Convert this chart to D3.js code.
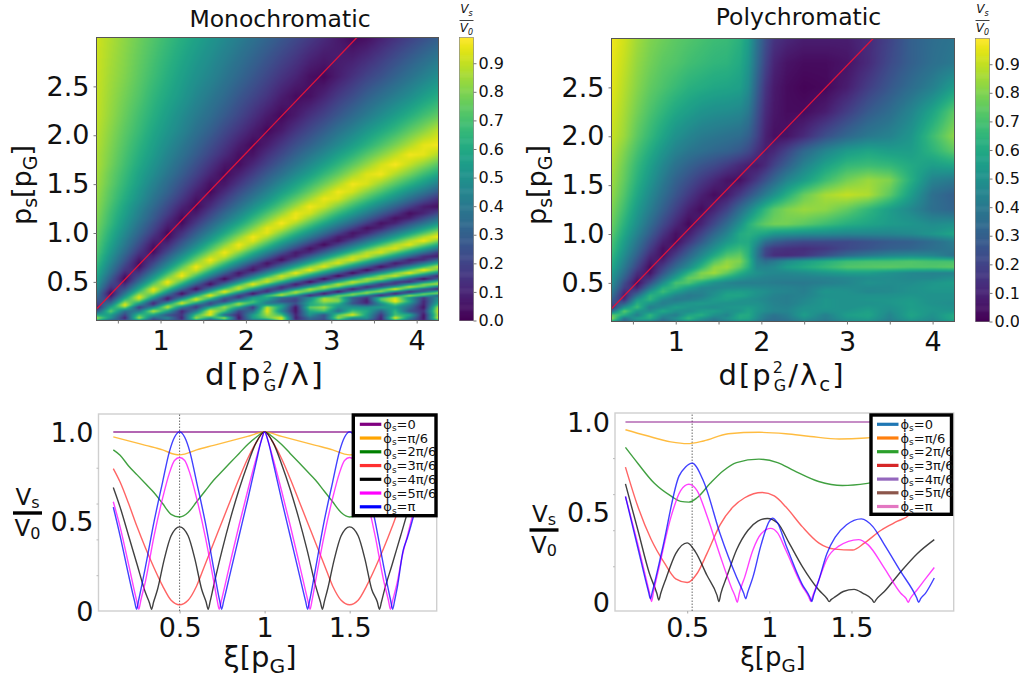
<!DOCTYPE html>
<html>
<head>
<meta charset="utf-8">
<script src="https://cdn.jsdelivr.net/npm/d3@7"></script>
<style>
  html, body { margin: 0; padding: 0; background: #fff; }
  text { font-family: "DejaVu Sans", sans-serif; fill: #111; }
</style>
</head>
<body>
<svg id="chart" width="1019" height="681"></svg>
<script>
// ---- monochromatic map (rows top to bottom)
const monoD = [.25,.417,.583,.75,.917,1.083,1.25,1.417,1.583,1.75,1.917,2.083,2.25,2.417,2.583,2.75,2.917,3.083,3.25,3.417,3.583,3.75,3.917,4.083,4.25];
const monoP = [3,2.6,2.4,2.2,2.05,1.9,1.8,1.7,1.6,1.5,1.42,1.35,1.27,1.2,1.15,1.1,1.05,1,.96,.92,.88,.84,.8,.76,.725,.69,.655,.62,.59,.56,.53,.5,.475,.45,.425,.4,.38,.36,.34,.32,.3,.28,.26,.24,.2,.16,.13,.105];
const monoV = [
  [.92,.87,.82,.77,.72,.67,.62,.57,.52,.47,.42,.37,.32,.27,.22,.17,.12,.07,.02,.04,.09,.14,.19,.24,.29],
  [.91,.85,.80,.74,.68,.62,.56,.50,.45,.39,.33,.27,.21,.15,.10,.04,.02,.08,.14,.20,.25,.31,.37,.43,.49],
  [.905,.84,.78,.72,.65,.59,.53,.46,.40,.34,.27,.21,.15,.08,.03,.04,.10,.17,.23,.30,.36,.42,.48,.55,.61],
  [.90,.83,.76,.69,.62,.55,.48,.41,.35,.28,.21,.14,.07,.02,.07,.14,.20,.27,.34,.41,.48,.55,.62,.69,.75],
  [.89,.815,.74,.67,.59,.52,.45,.37,.30,.22,.15,.08,.02,.07,.15,.22,.29,.37,.44,.52,.59,.66,.74,.81,.89],
  [.88,.80,.72,.64,.56,.48,.40,.32,.24,.16,.08,.02,.08,.16,.24,.31,.39,.47,.55,.63,.71,.79,.87,.95,.97],
  [.87,.79,.705,.62,.54,.45,.37,.285,.20,.12,.04,.05,.14,.22,.305,.39,.47,.56,.64,.73,.81,.89,.97,.95,.87],
  [.87,.78,.69,.60,.51,.42,.33,.24,.15,.06,.03,.11,.20,.29,.38,.47,.56,.65,.74,.83,.92,.98,.90,.82,.73],
  [.86,.76,.67,.57,.48,.385,.29,.195,.10,.02,.09,.18,.28,.37,.47,.56,.66,.75,.85,.94,.97,.87,.78,.68,.59],
  [.85,.75,.65,.55,.44,.34,.24,.14,.04,.06,.16,.26,.36,.47,.57,.67,.77,.87,.97,.93,.83,.73,.63,.53,.42],
  [.84,.73,.63,.52,.41,.31,.20,.09,.02,.12,.23,.33,.44,.55,.65,.76,.87,.97,.92,.81,.71,.60,.49,.39,.28],
  [.83,.72,.61,.50,.38,.27,.16,.05,.07,.18,.29,.40,.51,.63,.74,.85,.96,.93,.81,.70,.59,.48,.36,.25,.14],
  [.82,.70,.58,.46,.34,.22,.10,.02,.13,.25,.37,.49,.61,.73,.85,.97,.91,.79,.67,.55,.43,.31,.19,.08,.04],
  [.81,.68,.56,.43,.30,.18,.05,.07,.20,.33,.45,.58,.71,.83,.96,.92,.79,.66,.54,.41,.28,.16,.03,.10,.22],
  [.80,.67,.54,.41,.28,.14,.02,.12,.25,.38,.51,.65,.78,.91,.96,.83,.70,.56,.43,.30,.17,.04,.09,.23,.36],
  [.79,.66,.52,.38,.24,.10,.03,.17,.31,.45,.58,.72,.86,.98,.87,.73,.59,.45,.32,.18,.04,.10,.24,.37,.51],
  [.78,.64,.50,.35,.21,.06,.08,.23,.37,.52,.66,.80,.95,.91,.76,.62,.47,.33,.19,.04,.10,.25,.39,.54,.68],
  [.77,.62,.47,.32,.17,.02,.14,.29,.44,.59,.74,.89,.95,.80,.65,.50,.35,.20,.05,.11,.26,.41,.56,.71,.86],
  [.76,.605,.45,.29,.13,.03,.18,.34,.50,.66,.82,.97,.87,.71,.55,.40,.24,.08,.08,.24,.39,.55,.71,.87,.97],
  [.75,.59,.42,.26,.09,.07,.24,.40,.56,.73,.89,.94,.78,.61,.45,.28,.12,.05,.21,.38,.54,.70,.87,.97,.80],
  [.74,.57,.40,.225,.05,.12,.29,.46,.64,.81,.97,.85,.68,.50,.33,.16,.02,.185,.36,.53,.70,.87,.95,.78,.61],
  [.73,.55,.37,.19,.03,.17,.35,.53,.71,.89,.93,.75,.57,.39,.21,.04,.16,.34,.52,.70,.88,.94,.76,.58,.40],
  [.72,.53,.34,.15,.04,.23,.42,.61,.80,.97,.82,.63,.44,.25,.065,.12,.31,.50,.69,.88,.93,.74,.55,.36,.17],
  [.70,.50,.30,.10,.10,.30,.50,.70,.89,.91,.71,.51,.31,.11,.09,.29,.49,.69,.89,.91,.72,.52,.32,.12,.08],
  [.69,.48,.27,.06,.15,.36,.57,.78,.97,.81,.60,.39,.18,.03,.24,.45,.66,.87,.93,.72,.51,.30,.09,.12,.33],
  [.67,.45,.23,.03,.21,.43,.65,.87,.91,.69,.47,.25,.04,.19,.40,.62,.84,.94,.72,.50,.28,.06,.16,.38,.60],
  [.65,.42,.19,.04,.27,.50,.74,.97,.80,.57,.34,.11,.12,.35,.585,.82,.95,.72,.49,.26,.03,.20,.44,.67,.90],
  [.63,.39,.15,.10,.34,.59,.83,.92,.68,.43,.19,.05,.30,.54,.79,.97,.72,.48,.23,.02,.25,.50,.74,.98,.77],
  [.615,.36,.10,.16,.41,.67,.93,.82,.56,.30,.05,.21,.47,.72,.97,.76,.51,.25,.02,.26,.52,.78,.96,.71,.45],
  [.59,.32,.05,.22,.49,.76,.97,.70,.43,.16,.11,.38,.65,.92,.81,.54,.27,.02,.27,.55,.82,.91,.64,.37,.10],
  [.57,.285,.02,.29,.57,.86,.86,.57,.28,.02,.29,.57,.86,.855,.57,.28,.02,.29,.57,.86,.855,.57,.28,.02,.29],
  [.55,.24,.06,.36,.67,.97,.73,.42,.12,.18,.48,.79,.91,.61,.30,.02,.30,.60,.91,.79,.49,.18,.12,.42,.73],
  [.52,.20,.12,.44,.755,.93,.61,.29,.03,.35,.67,.97,.69,.37,.055,.26,.58,.90,.78,.46,.14,.18,.50,.82,.87],
  [.50,.16,.18,.52,.85,.81,.48,.14,.20,.53,.87,.79,.45,.12,.22,.55,.89,.77,.43,.10,.24,.57,.91,.75,.41],
  [.465,.11,.25,.60,.96,.68,.33,.03,.39,.74,.90,.54,.19,.17,.53,.88,.76,.40,.05,.31,.67,.98,.62,.26,.09],
  [.43,.05,.33,.70,.92,.54,.16,.22,.60,.98,.64,.26,.11,.49,.87,.75,.37,.01,.39,.77,.86,.48,.10,.28,.66],
  [.40,.02,.395,.79,.81,.41,.02,.39,.79,.81,.41,.02,.38,.78,.82,.42,.02,.38,.78,.825,.43,.03,.37,.77,.83],
  [.37,.05,.47,.89,.68,.26,.16,.58,.98,.58,.16,.26,.68,.90,.48,.06,.36,.78,.79,.37,.05,.47,.89,.69,.27],
  [.33,.11,.56,.95,.55,.10,.34,.80,.77,.32,.15,.55,.60,.35,.25,.45,.80,.75,.30,.15,.65,.90,.55,.15,.50],
  [.29,.18,.66,.87,.40,.08,.55,.95,.60,.20,.35,.60,.55,.30,.20,.50,.88,.80,.30,.10,.75,.95,.55,.15,.50],
  [.24,.26,.77,.73,.22,.28,.79,.78,.35,.20,.55,.70,.45,.25,.20,.55,.85,.80,.30,.08,.65,.98,.60,.10,.55],
  [.19,.35,.89,.56,.10,.52,.94,.55,.20,.45,.85,.65,.40,.40,.25,.60,.75,.65,.25,.12,.50,.80,.50,.10,.60],
  [.13,.46,.96,.38,.21,.79,.70,.25,.30,.70,.80,.40,.60,.55,.15,.60,.70,.55,.40,.30,.45,.65,.40,.08,.70],
  [.05,.58,.79,.16,.47,.90,.40,.15,.60,.85,.55,.15,.90,.55,.05,.75,.85,.50,.50,.50,.55,.55,.35,.05,.85],
  [.25,.75,.35,.40,.90,.55,.10,.40,.95,.70,.20,.35,.95,.45,.05,.60,.70,.35,.70,.60,.30,.65,.25,.15,.90],
  [.60,.55,.20,.70,.55,.25,.15,.70,.95,.35,.10,.55,.85,.70,.10,.50,.25,.75,.95,.55,.15,.70,.60,.05,.85],
  [.85,.50,.10,.85,.30,.45,.10,.85,.55,.85,.05,.55,.75,.95,.08,.35,.25,.85,.50,.50,.10,.95,.45,.05,.90],
  [.60,.30,.25,.50,.15,.30,.20,.55,.20,.50,.15,.35,.40,.85,.15,.30,.20,.55,.30,.30,.10,.60,.30,.10,.60]
];

// ---- polychromatic map
const polyD = [.25,.4,.55,.7,.85,1,1.15,1.3,1.45,1.6,1.75,1.85,1.95,2.05,2.15,2.3,2.5,2.75,3,3.25,3.5,3.75,4,4.25];
const polyP = [3,2.75,2.5,2.25,2,1.85,1.7,1.55,1.4,1.25,1.1,1,.92,.85,.78,.72,.66,.6,.55,.5,.45,.41,.37,.33,.29,.25,.21,.17,.135,.105];
const polyV = [
  [.97,.92,.85,.80,.77,.74,.72,.70,.68,.67,.63,.55,.38,.24,.15,.11,.08,.08,.08,.12,.20,.30,.35,.38],
  [.96,.90,.83,.78,.74,.72,.69,.67,.65,.64,.60,.52,.35,.20,.10,.05,.03,.03,.05,.12,.22,.30,.36,.40],
  [.95,.88,.81,.75,.71,.67,.63,.61,.59,.58,.56,.48,.30,.15,.07,.03,.01,.02,.08,.18,.27,.35,.43,.55],
  [.93,.86,.78,.71,.65,.59,.55,.51,.49,.48,.46,.40,.25,.12,.06,.03,.03,.08,.18,.28,.35,.45,.58,.74],
  [.91,.84,.74,.66,.58,.50,.45,.41,.39,.37,.35,.30,.20,.09,.04,.05,.12,.24,.33,.40,.44,.52,.68,.82],
  [.89,.80,.70,.61,.52,.44,.39,.36,.33,.31,.27,.22,.14,.08,.11,.20,.33,.45,.54,.58,.55,.55,.64,.74],
  [.87,.77,.66,.56,.46,.37,.31,.26,.22,.17,.11,.08,.07,.12,.20,.30,.44,.57,.66,.68,.66,.60,.55,.58],
  [.85,.75,.63,.52,.41,.31,.24,.17,.11,.05,.04,.10,.17,.25,.33,.45,.55,.68,.78,.84,.80,.62,.44,.40],
  [.83,.72,.59,.47,.36,.26,.17,.09,.03,.07,.17,.25,.33,.42,.50,.62,.76,.86,.90,.87,.74,.55,.36,.30],
  [.80,.68,.54,.42,.30,.19,.09,.03,.10,.20,.35,.45,.56,.66,.74,.80,.84,.82,.75,.65,.55,.46,.36,.32],
  [.77,.63,.49,.35,.22,.11,.02,.10,.22,.35,.50,.62,.70,.75,.78,.78,.74,.68,.62,.58,.54,.52,.48,.50],
  [.74,.59,.44,.29,.15,.04,.08,.20,.33,.45,.60,.63,.60,.57,.52,.50,.48,.47,.45,.45,.45,.47,.52,.58],
  [.71,.55,.39,.23,.09,.03,.15,.28,.42,.53,.60,.60,.50,.36,.30,.25,.22,.22,.22,.25,.28,.30,.35,.42],
  [.69,.52,.35,.18,.04,.10,.24,.38,.50,.62,.67,.62,.42,.22,.16,.14,.13,.16,.22,.26,.30,.32,.36,.40],
  [.66,.48,.30,.12,.04,.18,.32,.46,.60,.72,.75,.63,.40,.20,.13,.12,.15,.24,.34,.40,.45,.47,.45,.37],
  [.63,.44,.25,.07,.10,.26,.40,.55,.72,.82,.80,.66,.43,.36,.40,.48,.55,.62,.68,.70,.70,.72,.70,.70],
  [.60,.40,.20,.03,.18,.34,.48,.65,.82,.85,.75,.63,.46,.45,.47,.55,.60,.66,.72,.73,.74,.72,.72,.74],
  [.55,.35,.13,.05,.26,.45,.64,.80,.85,.75,.62,.55,.50,.47,.46,.46,.48,.52,.55,.55,.50,.46,.44,.44],
  [.52,.30,.08,.13,.36,.56,.75,.78,.70,.60,.52,.48,.46,.44,.43,.43,.43,.44,.46,.48,.48,.46,.46,.50],
  [.50,.23,.03,.24,.48,.70,.72,.60,.50,.45,.42,.42,.42,.42,.41,.40,.40,.42,.45,.50,.48,.48,.52,.55],
  [.46,.18,.10,.38,.62,.66,.55,.46,.45,.47,.48,.48,.47,.46,.45,.44,.42,.48,.48,.47,.47,.50,.53,.53],
  [.42,.12,.22,.52,.68,.56,.46,.44,.48,.54,.55,.54,.51,.49,.46,.45,.42,.52,.50,.46,.47,.50,.52,.52],
  [.37,.08,.36,.64,.58,.45,.40,.42,.50,.58,.58,.54,.50,.47,.44,.42,.44,.50,.50,.50,.50,.52,.50,.50],
  [.30,.12,.52,.65,.47,.40,.42,.47,.54,.56,.52,.50,.48,.46,.43,.42,.46,.52,.50,.52,.52,.54,.50,.50],
  [.22,.28,.62,.52,.42,.47,.52,.54,.52,.50,.50,.50,.50,.47,.44,.42,.47,.52,.50,.50,.52,.55,.50,.48],
  [.12,.50,.68,.42,.48,.56,.52,.50,.48,.52,.53,.55,.52,.48,.45,.44,.50,.52,.50,.53,.50,.55,.52,.50],
  [.35,.74,.52,.48,.60,.50,.48,.55,.56,.50,.52,.58,.52,.48,.45,.45,.52,.50,.52,.56,.48,.56,.52,.52],
  [.75,.62,.42,.65,.48,.42,.58,.62,.50,.45,.60,.60,.50,.42,.38,.42,.55,.43,.55,.58,.45,.58,.50,.60],
  [.85,.38,.55,.62,.40,.50,.66,.52,.42,.50,.60,.58,.48,.40,.36,.40,.50,.42,.52,.55,.44,.55,.48,.60],
  [.60,.30,.45,.42,.32,.42,.50,.42,.36,.42,.50,.50,.42,.35,.33,.36,.45,.38,.48,.50,.40,.50,.45,.55]
];

// red guide line on both maps
const monoLineD = [.257,3.3];
const monoLineP = [.228,3];
const polyLineD = [.25,3.306];
const polyLineP = [.235,3];

// ---- bottom left curves, [xi, V]
const mono0 = [[.11,1],[1.89,1]];
const mono1 = [[.11,.972],[.2,.95],[.3,.925],[.4,.9],[.47,.875],[.5,.872],[.53,.876],[.6,.9],[.7,.925],[.8,.95],[.9,.975],[1,1],[1.1,.975],[1.2,.95],[1.3,.925],[1.4,.9],[1.47,.876],[1.5,.872],[1.53,.875],[1.6,.9],[1.7,.925],[1.8,.95],[1.89,.972]];
const mono2 = [[.11,.9],[.15,.87],[.2,.81],[.25,.76],[.3,.71],[.35,.66],[.4,.6],[.45,.54],[.5,.525],[.55,.55],[.6,.61],[.65,.67],[.7,.73],[.75,.78],[.8,.83],[.85,.88],[.9,.93],[.95,.97],[1,1],[1.05,.97],[1.1,.93],[1.15,.88],[1.2,.83],[1.25,.78],[1.3,.73],[1.35,.67],[1.4,.61],[1.45,.55],[1.5,.525],[1.55,.54],[1.6,.6],[1.65,.66],[1.7,.71],[1.75,.76],[1.8,.81],[1.85,.87],[1.89,.9]];
const mono3 = [[.11,.795],[.15,.72],[.2,.6],[.25,.47],[.3,.35],[.35,.24],[.4,.14],[.45,.06],[.5,.035],[.55,.06],[.6,.14],[.65,.26],[.7,.38],[.75,.5],[.8,.62],[.85,.74],[.9,.85],[.95,.94],[1,1],[1.05,.94],[1.1,.85],[1.15,.74],[1.2,.62],[1.25,.5],[1.3,.38],[1.35,.26],[1.4,.14],[1.45,.06],[1.5,.035],[1.55,.06],[1.6,.14],[1.65,.24],[1.7,.35],[1.75,.47],[1.8,.6],[1.85,.72],[1.89,.795]];
const mono4 = [[.11,.69],[.15,.58],[.2,.42],[.25,.26],[.3,.1],[.323,.045],[.335,.01],[.347,.05],[.37,.12],[.41,.29],[.45,.42],[.5,.47],[.55,.42],[.59,.29],[.63,.12],[.656,.05],[.668,.01],[.68,.055],[.7,.14],[.75,.34],[.8,.52],[.85,.68],[.9,.82],[.95,.94],[1,1],[1.05,.94],[1.1,.82],[1.15,.68],[1.2,.52],[1.25,.34],[1.3,.14],[1.328,.05],[1.34,.01],[1.352,.055],[1.37,.12],[1.41,.29],[1.45,.42],[1.5,.47],[1.55,.42],[1.59,.29],[1.63,.12],[1.663,.05],[1.675,.01],[1.687,.05],[1.7,.1],[1.75,.26],[1.8,.42],[1.85,.58],[1.89,.69]];
const mono5 = [[.11,.61],[.15,.47],[.2,.26],[.248,.055],[.26,.01],[.272,.06],[.3,.17],[.35,.42],[.4,.63],[.44,.77],[.47,.84],[.5,.857],[.53,.84],[.56,.77],[.6,.63],[.65,.42],[.7,.17],[.721,.06],[.733,.01],[.745,.055],[.8,.28],[.85,.48],[.9,.67],[.95,.85],[.98,.95],[1,1],[1.02,.95],[1.05,.85],[1.1,.67],[1.15,.48],[1.2,.28],[1.255,.055],[1.267,.01],[1.279,.06],[1.3,.17],[1.35,.42],[1.4,.63],[1.44,.77],[1.47,.84],[1.5,.857],[1.53,.84],[1.56,.77],[1.6,.63],[1.65,.42],[1.7,.17],[1.728,.06],[1.74,.01],[1.752,.055],[1.78,.16],[1.81,.31],[1.84,.42],[1.89,.61]];
const mono6 = [[.11,.58],[.15,.42],[.2,.2],[.235,.055],[.247,.01],[.259,.06],[.3,.25],[.35,.5],[.4,.72],[.44,.89],[.47,.97],[.5,1],[.53,.97],[.56,.89],[.6,.72],[.65,.5],[.7,.24],[.735,.06],[.747,.01],[.759,.055],[.8,.22],[.85,.42],[.9,.62],[.95,.83],[.98,.95],[1,1],[1.02,.95],[1.05,.83],[1.1,.62],[1.15,.42],[1.2,.22],[1.241,.055],[1.253,.01],[1.265,.06],[1.3,.24],[1.35,.5],[1.4,.72],[1.44,.89],[1.47,.97],[1.5,1],[1.53,.97],[1.56,.89],[1.6,.72],[1.65,.5],[1.7,.25],[1.741,.06],[1.753,.01],[1.765,.06],[1.78,.13],[1.815,.34],[1.84,.41],[1.89,.58]];

// ---- bottom right curves, [xi, V]
const poly0 = [[.124,1],[2.004,1]];
const poly1 = [[.124,.957],[.25,.925],[.4,.89],[.5,.88],[.6,.895],[.75,.935],[.937,.943],[1.1,.935],[1.25,.92],[1.425,.906],[1.587,.911],[1.8,.93],[2,.95]];
const poly2 = [[.124,.859],[.2,.77],[.3,.66],[.4,.59],[.46,.56],[.51,.556],[.56,.58],[.64,.66],[.72,.73],[.8,.775],[.937,.794],[1.05,.775],[1.15,.73],[1.3,.67],[1.445,.648],[1.597,.66],[1.8,.7],[2,.75]];
const poly3 = [[.124,.75],[.2,.53],[.28,.35],[.36,.22],[.43,.13],[.5,.11],[.56,.16],[.62,.27],[.7,.43],[.78,.53],[.85,.58],[.957,.609],[1.03,.59],[1.1,.53],[1.2,.42],[1.3,.33],[1.4,.295],[1.506,.29],[1.58,.33],[1.68,.4],[1.78,.45],[1.852,.485],[1.92,.58],[2,.7]];
const poly4 = [[.124,.657],[.2,.4],[.27,.16],[.315,.05],[.327,.013],[.339,.05],[.37,.13],[.43,.27],[.5,.33],[.55,.28],[.62,.15],[.681,.04],[.693,.004],[.705,.05],[.74,.14],[.8,.29],[.87,.4],[.93,.45],[.988,.465],[1.05,.44],[1.12,.33],[1.2,.2],[1.3,.07],[1.352,.02],[1.364,.004],[1.376,.015],[1.4,.03],[1.45,.06],[1.516,.072],[1.57,.05],[1.626,.015],[1.638,0],[1.65,.015],[1.7,.06],[1.8,.17],[1.9,.27],[2.004,.348]];
const poly5 = [[.124,.587],[.2,.32],[.271,.05],[.283,.005],[.295,.06],[.33,.2],[.4,.47],[.46,.62],[.51,.655],[.56,.62],[.62,.48],[.7,.26],[.77,.08],[.793,.03],[.805,0],[.817,.05],[.85,.14],[.9,.29],[.95,.38],[1.008,.41],[1.05,.385],[1.1,.29],[1.2,.09],[1.24,.03],[1.252,.005],[1.264,.035],[1.3,.12],[1.35,.24],[1.42,.31],[1.543,.348],[1.6,.32],[1.7,.19],[1.8,.05],[1.833,.02],[1.845,0],[1.857,.02],[1.9,.07],[1.95,.13],[2.004,.193]];
const poly6 = [[.124,.587],[.2,.3],[.264,.06],[.276,.02],[.288,.06],[.35,.3],[.45,.7],[.49,.75],[.53,.772],[.6,.67],[.7,.38],[.8,.14],[.844,.05],[.856,.02],[.868,.055],[.9,.14],[.95,.32],[1,.45],[1.018,.467],[1.05,.44],[1.1,.32],[1.2,.1],[1.246,.03],[1.258,.005],[1.27,.04],[1.3,.12],[1.35,.27],[1.4,.36],[1.47,.43],[1.56,.463],[1.63,.42],[1.7,.32],[1.8,.17],[1.897,.025],[1.909,0],[1.921,.02],[1.95,.05],[2.004,.135]];

const phaseLabels = ['=0','=π/6','=2π/6','=3π/6','=4π/6','=5π/6','=π'];
const lineColors = ['#800080','#ffa500','#008000','#ff3030','#000000','#ff00ff','#0000ff'];
const legendColorsPoly = ['#1f77b4','#ff7f0e','#2ca02c','#d62728','#9467bd','#8c564b','#e377c2'];
const barTicks = [0,.1,.2,.3,.4,.5,.6,.7,.8,.9];

const svg = d3.select('#chart');
const color = d3.scaleSequential(d3.interpolateViridis).domain([0,.99]);

// subscript, with the text that follows it put back on the baseline
function sub(s, after, size) {
  return `<tspan dy="6" font-size="${size}">${s}</tspan><tspan dy="-6">${after}</tspan>`;
}

function styleAxis(g, tickColor, size) {
  g.select('.domain').remove();
  g.selectAll('.tick line').attr('stroke',tickColor);
  g.selectAll('.tick text').filter(function() { return !this.textContent; }).remove();
  g.selectAll('text').attr('font-size',size).attr('font-family','"DejaVu Sans"').attr('fill','#111');
}

function drawMap(o) {
  const x = d3.scaleLinear().domain([.25,4.25]).range(o.xr);
  const y = d3.scaleLinear().domain([.105,3]).range(o.yr);
  const w = Math.round(o.xr[1]-o.xr[0]), h = Math.round(o.yr[0]-o.yr[1]);

  // paint the grid into an image, smoothed like imshow
  const colIdx = d3.scaleLinear().domain(o.cols).range(d3.range(o.cols.length)).clamp(true);
  const rowIdx = d3.scaleLinear().domain(o.rows).range(d3.range(o.rows.length)).clamp(true);
  const canvas = document.createElement('canvas');
  canvas.width = w; canvas.height = h;
  const ctx = canvas.getContext('2d');
  const img = ctx.createImageData(w,h);
  for (let j=0;j<h;j++) {
    const r = rowIdx(y.invert(o.yr[1]+j+.5));
    const r0 = Math.min(Math.floor(r),o.rows.length-2), fr = r-r0;
    for (let i=0;i<w;i++) {
      const c = colIdx(x.invert(o.xr[0]+i+.5));
      const c0 = Math.min(Math.floor(c),o.cols.length-2), fc = c-c0;
      const v = (o.grid[r0][c0]*(1-fc)+o.grid[r0][c0+1]*fc)*(1-fr)
              + (o.grid[r0+1][c0]*(1-fc)+o.grid[r0+1][c0+1]*fc)*fr;
      const rgb = d3.rgb(color(v));
      const k = (j*w+i)*4;
      img.data[k]=rgb.r; img.data[k+1]=rgb.g; img.data[k+2]=rgb.b; img.data[k+3]=255;
    }
  }
  ctx.putImageData(img,0,0);
  svg.append('image').attr('x',o.xr[0]).attr('y',o.yr[1]).attr('width',w).attr('height',h)
     .attr('href',canvas.toDataURL());

  const line = d3.line().x(d=>x(d[0])).y(d=>y(d[1]));
  svg.append('path').attr('d',line(d3.zip(o.lineD,o.lineP)))
     .attr('stroke','#dc143c').attr('stroke-width',1.3).attr('fill','none');

  svg.append('rect').attr('x',o.xr[0]).attr('y',o.yr[1]).attr('width',w).attr('height',h)
     .attr('fill','none').attr('stroke','#555').attr('stroke-width',1);

  // x ticks: every 0.5, labels on the integers
  const gx = svg.append('g').attr('transform',`translate(0,${o.yr[0]})`)
    .call(d3.axisBottom(x).tickValues([.5,1,1.5,2,2.5,3,3.5,4]).tickSize(3).tickPadding(7)
      .tickFormat(d=>Number.isInteger(d)?d:''));
  styleAxis(gx,'#777',27);

  const gy = svg.append('g').attr('transform',`translate(${o.xr[0]},0)`)
    .call(d3.axisLeft(y).tickValues([.5,1,1.5,2,2.5]).tickSize(3).tickPadding(4).tickFormat(d3.format('.1f')));
  styleAxis(gy,'#777',27);

  svg.append('text').attr('x',o.titleX).attr('y',o.titleY).attr('text-anchor','middle')
     .attr('font-size',23.5).text(o.title);

  svg.append('text').attr('transform',`translate(${o.ylabelX},185) rotate(-90)`)
     .attr('text-anchor','middle').attr('font-size',27)
     .html('p'+sub('s','[p',19)+sub('G',']',19));

  const tail = o.lambdaSub ? '<tspan dy="-6">/λ</tspan>'+sub('c',']',20) : '<tspan dy="-6">/λ]</tspan>';
  svg.append('text').attr('x',o.xlabelX).attr('y',385).attr('text-anchor','middle')
     .attr('font-size',o.xlabelSize).attr('letter-spacing',2)
     .html(`d[p<tspan dy="-12" font-size="16">2</tspan><tspan dy="18" dx="-11" font-size="16">G</tspan>${tail}`);

  // colorbar
  const bar = d3.scaleLinear().domain([0,.99]).range(o.yr);
  svg.append('g').selectAll('rect').data(d3.range(0,.99,.0033)).join('rect')
     .attr('x',o.barX).attr('width',o.barW)
     .attr('y',d=>bar(d)-1).attr('height',1.5)
     .attr('fill',d=>color(d));
  svg.append('rect').attr('x',o.barX).attr('y',o.yr[1]).attr('width',o.barW).attr('height',h)
     .attr('fill','none').attr('stroke','#777').attr('stroke-width',.6);
  const gb = svg.append('g').attr('transform',`translate(${o.barX+o.barW},0)`)
     .call(d3.axisRight(bar).tickValues(barTicks).tickSize(3).tickPadding(2).tickFormat(d3.format('.1f')));
  styleAxis(gb,'#777',16);

  // fraction above the colorbar
  const cx = o.barX+o.barW/2;
  svg.append('text').attr('x',cx).attr('y',13).attr('text-anchor','middle').attr('font-size',12)
     .attr('font-style','italic').html('V<tspan dy="3" font-size="8">s</tspan>');
  svg.append('line').attr('x1',cx-7).attr('x2',cx+7).attr('y1',20.5).attr('y2',20.5).attr('stroke','#111').attr('stroke-width',.8);
  svg.append('text').attr('x',cx).attr('y',32).attr('text-anchor','middle').attr('font-size',12)
     .attr('font-style','italic').html('V<tspan dy="3" font-size="8">0</tspan>');
}

function drawCurves(o) {
  const x = d3.scaleLinear().domain(o.xd).range(o.xr);
  const y = d3.scaleLinear().domain(o.yd).range(o.yr);
  const line = d3.line().x(d=>x(d[0])).y(d=>y(d[1])).curve(d3.curveMonotoneX);

  svg.append('rect').attr('x',o.xr[0]).attr('y',o.yr[1]).attr('width',o.xr[1]-o.xr[0]).attr('height',o.yr[0]-o.yr[1])
     .attr('fill','none').attr('stroke','#cfcfcf').attr('stroke-width',1.4);

  svg.append('line').attr('x1',x(o.mark)).attr('x2',x(o.mark)).attr('y1',o.yr[0]).attr('y2',o.yr[1])
     .attr('stroke','#444').attr('stroke-width',.8).attr('stroke-dasharray','1.5,1.5');

  o.series.forEach((s,i)=>{
    svg.append('path').attr('d',line(s)).attr('fill','none')
       .attr('stroke',lineColors[i]).attr('stroke-opacity',i==0?.6:.75)
       .attr('stroke-width',i==0?o.firstWidth:1.4);
  });

  const gx = svg.append('g').attr('transform',`translate(0,${o.yr[0]})`)
    .call(d3.axisBottom(x).tickValues([.5,1,1.5]).tickSize(2.5).tickPadding(4.5).tickFormat(d=>d==1?'1':d));
  styleAxis(gx,'#aaa',27);

  const gy = svg.append('g').attr('transform',`translate(${o.xr[0]},0)`)
    .call(d3.axisLeft(y).tickValues([.2,.4,.6,.8]).tickSize(2).tickFormat(''));
  styleAxis(gy,'#bbb',10);
  svg.append('g').selectAll('text').data([0,.5,1]).join('text')
     .attr('x',o.xr[0]-5).attr('y',d=>y(d)+10).attr('text-anchor','end').attr('font-size',27)
     .text(d=>d==0?'0':d3.format('.1f')(d));

  svg.append('text').attr('x',o.xlabelX).attr('y',o.xlabelY).attr('text-anchor','middle').attr('font-size',o.xlabelSize)
     .html('ξ[p'+sub('G',']',o.xlabelSize*.7));

  // V_s over V_0, left of the axis
  const cx = o.fracX;
  svg.append('text').attr('x',cx).attr('y',o.fracY-8).attr('text-anchor','middle').attr('font-size',23)
     .html('V<tspan dy="3" font-size="16">s</tspan>');
  svg.append('rect').attr('x',cx-14.5).attr('y',o.fracY-1.7).attr('width',29).attr('height',3.4).attr('fill','#000');
  svg.append('text').attr('x',cx).attr('y',o.fracY+23).attr('text-anchor','middle').attr('font-size',23)
     .html('V<tspan dy="3" font-size="16">0</tspan>');

  // legend
  const L = o.legend;
  svg.append('rect').attr('x',L.x).attr('y',L.y).attr('width',L.w).attr('height',L.h)
     .attr('fill','#fff').attr('stroke','#000').attr('stroke-width',3.4);
  phaseLabels.forEach((t,i)=>{
    const ly = L.y+9.3+i*L.step;
    svg.append('line').attr('x1',L.x+L.pad).attr('x2',L.x+L.pad+21.5).attr('y1',ly).attr('y2',ly)
       .attr('stroke',o.legendColors[i]).attr('stroke-width',3.2);
    svg.append('text').attr('x',L.x+L.pad+23.5).attr('y',ly+4.5).attr('font-size',13)
       .html(`ϕ<tspan dy="2.5" font-size="9">s</tspan><tspan dy="-2.5">${t}</tspan>`);
  });
}

drawMap({title:'Monochromatic',titleX:280,titleY:27,xr:[96.5,438],yr:[320.5,37.5],cols:monoD,rows:monoP,grid:monoV,
         lineD:monoLineD,lineP:monoLineP,ylabelX:31,xlabelX:265,xlabelSize:31,lambdaSub:false,barX:459.5,barW:14});
drawMap({title:'Polychromatic',titleX:798.5,titleY:25,xr:[611.5,954],yr:[321.5,38.5],cols:polyD,rows:polyP,grid:polyV,
         lineD:polyLineD,lineP:polyLineP,ylabelX:546,xlabelX:782,xlabelSize:29,lambdaSub:true,barX:975.5,barW:14});

drawCurves({xd:[.023,2.012],yd:[0,1.1],xr:[98.5,436.7],yr:[611,414],mark:.5,firstWidth:2,
            series:[mono0,mono1,mono2,mono3,mono4,mono5,mono6],xlabelX:260,xlabelY:667,xlabelSize:29,fracX:27.5,fracY:513,
            legendColors:lineColors,
            legend:{x:353.3,y:415,w:82.7,h:100.7,step:13.75,pad:6.5}});
drawCurves({xd:[.0604,2.1222],yd:[-.048,1.05],xr:[615,953.7],yr:[611,413],mark:.53,firstWidth:1.3,
            series:[poly0,poly1,poly2,poly3,poly4,poly5,poly6],xlabelX:773,xlabelY:666,xlabelSize:26,fracX:544,fracY:530,
            legendColors:legendColorsPoly,
            legend:{x:871,y:415,w:80.5,h:99.3,step:13.7,pad:6}});
</script>
</body>
</html>
